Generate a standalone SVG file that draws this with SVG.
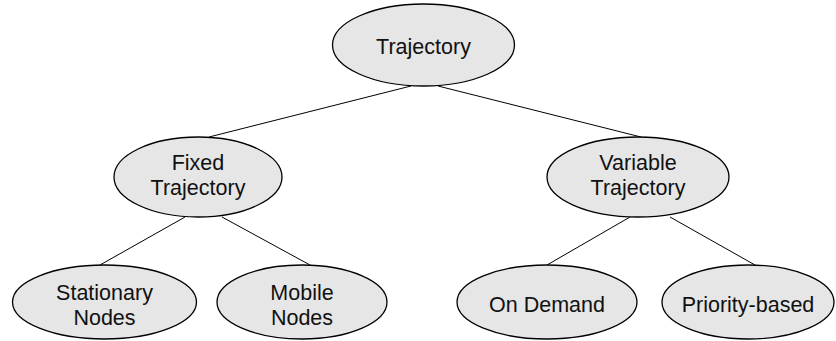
<svg xmlns="http://www.w3.org/2000/svg" width="836" height="341" viewBox="0 0 836 341">
  <style>
    .node ellipse { fill: #e6e6e6; stroke: #000; stroke-width: 1.3; }
    .node text { font-family: "Liberation Sans", Arial, sans-serif; font-size: 21.5px; fill: #111; text-anchor: middle; }
    .edges line { stroke: #000; stroke-width: 1; }
  </style>
  <rect width="836" height="341" fill="#fff"/>
  <g class="edges">
    <line x1="411" y1="86" x2="209" y2="137"/>
    <line x1="438" y1="86" x2="641" y2="137"/>
    <line x1="185" y1="217" x2="100" y2="265"/>
    <line x1="222" y1="217" x2="310" y2="265"/>
    <line x1="630" y1="217" x2="547" y2="265"/>
    <line x1="670" y1="217" x2="755" y2="265"/>
  </g>
  <g id="trajectory" class="node">
    <ellipse cx="423.5" cy="45" rx="91" ry="41"/>
    <text x="423.5" y="54">Trajectory</text>
  </g>
  <g id="fixed" class="node">
    <ellipse cx="198" cy="177" rx="84" ry="40"/>
    <text x="198" y="170">Fixed</text>
    <text x="198" y="195">Trajectory</text>
  </g>
  <g id="variable" class="node">
    <ellipse cx="638" cy="177" rx="91" ry="40"/>
    <text x="638" y="170">Variable</text>
    <text x="638" y="195">Trajectory</text>
  </g>
  <g id="stationary" class="node">
    <ellipse cx="104.5" cy="302" rx="92" ry="37"/>
    <text x="104.5" y="300">Stationary</text>
    <text x="104.5" y="325">Nodes</text>
  </g>
  <g id="mobile" class="node">
    <ellipse cx="302" cy="302" rx="85" ry="37"/>
    <text x="302" y="300">Mobile</text>
    <text x="302" y="325">Nodes</text>
  </g>
  <g id="on-demand" class="node">
    <ellipse cx="547" cy="302" rx="90" ry="37"/>
    <text x="547" y="312">On Demand</text>
  </g>
  <g id="priority" class="node">
    <ellipse cx="748" cy="302" rx="86" ry="37"/>
    <text x="748" y="312">Priority-based</text>
  </g>
</svg>
